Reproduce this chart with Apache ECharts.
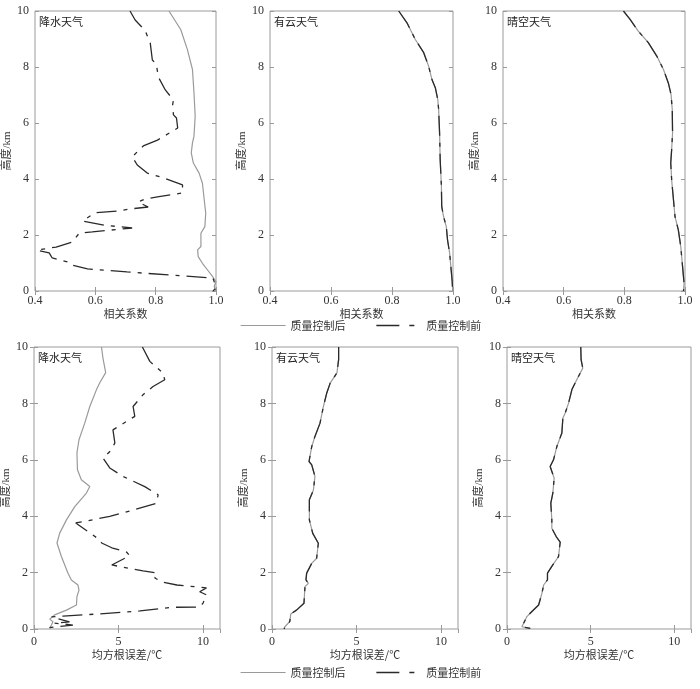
<!DOCTYPE html>
<html>
<head>
<meta charset="utf-8">
<script src="https://cdn.jsdelivr.net/npm/echarts@6/dist/echarts.min.js"></script>
<style>
  html, body { margin: 0; padding: 0; background: #fff; }
  #chart { width: 700px; height: 689px; }
</style>
</head>
<body>
<div id="chart"></div>
<script>
  // 降水天气 相关系数
  var rainCorrAfterH = [10, 9.34, 8.63, 7.91, 7.08, 6.24, 5.53, 5.29, 4.93, 4.57, 4.21, 3.85, 3.26, 2.78, 2.30, 2.06, 1.59, 1.47, 1.23, 0.99, 0.75, 0.51, 0.33, 0.16, 0]
  var rainCorrAfterV = [0.844, 0.883, 0.905, 0.922, 0.927, 0.931, 0.927, 0.922, 0.918, 0.925, 0.944, 0.955, 0.961, 0.966, 0.963, 0.950, 0.950, 0.939, 0.941, 0.955, 0.972, 0.989, 1.0, 0.994, 1.0]
  var rainCorrBeforeH = [10, 9.68, 9.3, 8.86, 8.25, 8.1, 7.64, 7.18, 6.82, 6.64, 6.29, 6.18, 5.82, 5.39, 5.18, 4.79, 4.5, 4.21, 4.04, 3.79, 3.5, 3.36, 3.29, 3.18, 3.0, 2.93, 2.86, 2.79, 2.5, 2.35, 2.25, 2.11, 2.07, 1.75, 1.57, 1.46, 1.36, 1.18, 1.04, 0.93, 0.79, 0.68, 0.54, 0.46, 0.3, 0.1, 0]
  var rainCorrBeforeV = [0.715, 0.732, 0.765, 0.782, 0.789, 0.802, 0.809, 0.832, 0.859, 0.856, 0.859, 0.869, 0.873, 0.806, 0.759, 0.722, 0.739, 0.772, 0.826, 0.889, 0.889, 0.806, 0.766, 0.742, 0.775, 0.715, 0.675, 0.598, 0.558, 0.63, 0.722, 0.59, 0.547, 0.524, 0.47, 0.407, 0.447, 0.457, 0.507, 0.52, 0.574, 0.705, 0.889, 0.99, 0.995, 1.0, 0.99]

  // 有云天气 相关系数 (前后两条几乎重合)
  var cloudCorrH = [10, 9.58, 8.99, 8.51, 8.03, 7.55, 7.26, 6.84, 6.48, 5.64, 4.69, 3.74, 3.02, 2.66, 2.3, 1.83, 1.35, 0.87, 0.39, 0]
  var cloudCorrV = [0.822, 0.849, 0.876, 0.904, 0.920, 0.931, 0.942, 0.950, 0.953, 0.956, 0.958, 0.962, 0.963, 0.969, 0.978, 0.982, 0.989, 0.993, 0.997, 0.999]

  // 晴空天气 相关系数
  var clearCorrH = [10, 9.7, 9.28, 8.87, 8.39, 7.91, 7.43, 7.02, 6.48, 5.64, 5.05, 4.57, 3.97, 3.26, 2.66, 2.18, 1.59, 0.87, 0.27, 0]
  var clearCorrV = [0.797, 0.819, 0.846, 0.879, 0.907, 0.929, 0.945, 0.954, 0.958, 0.959, 0.956, 0.953, 0.956, 0.962, 0.967, 0.978, 0.986, 0.992, 0.997, 0.995]

  // 降水天气 均方根误差
  var rainRmseAfterH = [10, 9.6, 9.09, 8.73, 8.48, 7.89, 7.3, 6.71, 6.25, 5.65, 5.29, 5.05, 4.82, 4.34, 3.87, 3.40, 3.05, 2.57, 1.98, 1.74, 1.56, 1.38, 1.15, 0.85, 0.67, 0.50, 0.35, 0.26, 0.14, 0.03]
  var rainRmseAfterV = [3.99, 4.08, 4.24, 3.89, 3.69, 3.30, 3.0, 2.66, 2.54, 2.57, 2.80, 3.30, 3.10, 2.41, 1.92, 1.52, 1.36, 1.62, 2.01, 2.21, 2.60, 2.66, 2.54, 2.51, 1.92, 1.22, 0.93, 1.12, 1.03, 0.93]
  var rainRmseBeforeH = [10, 9.49, 9.08, 8.84, 8.6, 8.31, 7.89, 7.54, 7.36, 7.06, 6.6, 6.35, 6.06, 5.71, 5.41, 5.05, 4.76, 4.46, 4.22, 3.99, 3.76, 3.45, 3.16, 3.05, 2.88, 2.73, 2.6, 2.27, 2.2, 2.06, 1.99, 1.81, 1.67, 1.56, 1.46, 1.32, 1.21, 0.92, 0.78, 0.77, 0.64, 0.53, 0.46, 0.43, 0.25, 0.21, 0.14, 0.04]
  var rainRmseBeforeV = [6.41, 6.85, 7.63, 7.73, 7.04, 6.45, 5.86, 5.96, 5.47, 4.67, 4.78, 4.58, 4.08, 4.48, 5.27, 6.55, 7.34, 7.24, 5.86, 4.48, 2.47, 3.2, 3.89, 4.0, 4.6, 5.47, 5.66, 4.6, 5.2, 6.45, 7.27, 7.15, 7.57, 8.45, 10.2, 9.8, 10.2, 10.0, 9.8, 8.2, 6.27, 3.7, 1.72, 1.04, 2.1, 1.2, 2.3, 0.75]

  // 有云天气 均方根误差
  var cloudRmseH = [10, 9.55, 9.08, 8.72, 8.37, 7.89, 7.3, 6.83, 6.47, 5.94, 5.82, 5.41, 4.93, 4.58, 3.87, 3.39, 3.04, 2.51, 2.33, 1.98, 1.74, 1.62, 1.50, 0.91, 0.67, 0.53, 0.26, 0.08, 0]
  var cloudRmseV = [3.94, 3.94, 3.84, 3.44, 3.24, 3.04, 2.84, 2.54, 2.35, 2.19, 2.35, 2.54, 2.45, 2.21, 2.21, 2.41, 2.74, 2.64, 2.35, 2.05, 2.01, 2.15, 1.95, 1.89, 1.45, 1.11, 1.05, 0.76, 0.72]

  // 晴空天气 均方根误差
  var clearRmseH = [10, 9.55, 9.25, 8.84, 8.49, 8.01, 7.66, 7.48, 6.95, 6.47, 6.0, 5.76, 5.35, 4.82, 4.46, 3.87, 3.57, 3.28, 3.08, 2.57, 2.22, 1.98, 1.74, 1.56, 1.27, 0.85, 0.62, 0.44, 0.08, 0.02]
  var clearRmseV = [4.41, 4.43, 4.53, 4.17, 3.88, 3.68, 3.48, 3.34, 3.28, 2.98, 2.78, 2.58, 2.82, 2.74, 2.62, 2.68, 2.68, 2.94, 3.18, 3.08, 2.68, 2.42, 2.42, 2.19, 2.09, 1.89, 1.49, 1.19, 0.89, 1.39]

  var titles = ['降水天气', '有云天气', '晴空天气', '降水天气', '有云天气', '晴空天气']
  var nameAfter = '质量控制后'
  var nameBefore = '质量控制前'

  function zip (xs, ys) {
    return xs.map(function (v, i) { return [v, ys[i]] })
  }

  var serif = 'Liberation Serif, Noto Sans CJK SC'
  var cjk = 'Noto Sans CJK SC'

  var panels = [
    {grid: {left: 35, top: 11, width: 181, height: 280}, corr: true, after: zip(rainCorrAfterV, rainCorrAfterH), before: zip(rainCorrBeforeV, rainCorrBeforeH)},
    {grid: {left: 270, top: 11, width: 183, height: 280}, corr: true, after: zip(cloudCorrV, cloudCorrH), before: zip(cloudCorrV, cloudCorrH)},
    {grid: {left: 503, top: 11, width: 182, height: 280}, corr: true, after: zip(clearCorrV, clearCorrH), before: zip(clearCorrV, clearCorrH)},
    {grid: {left: 34, top: 347, width: 186, height: 282}, corr: false, after: zip(rainRmseAfterV, rainRmseAfterH), before: zip(rainRmseBeforeV, rainRmseBeforeH)},
    {grid: {left: 272, top: 347, width: 186, height: 282}, corr: false, after: zip(cloudRmseV, cloudRmseH), before: zip(cloudRmseV, cloudRmseH)},
    {grid: {left: 507, top: 347, width: 184, height: 282}, corr: false, after: zip(clearRmseV, clearRmseH), before: zip(clearRmseV, clearRmseH)}
  ]

  var grid = []
  var xAxis = []
  var yAxis = []
  var series = []
  var title = []

  panels.forEach(function (p, i) {
    grid.push(Object.assign({show: true, borderColor: '#9a9a9a', borderWidth: 1}, p.grid))
    title.push({
      text: titles[i],
      left: p.grid.left + 4,
      top: p.grid.top + 5,
      padding: 0,
      textStyle: {fontSize: 11, fontWeight: 'normal', color: '#222', fontFamily: cjk}
    })
    var xr = p.corr ? {min: 0.4, max: 1.0, interval: 0.2} : {min: 0, max: 11, interval: 5}
    var tick = {show: true, inside: true, length: 4, lineStyle: {color: '#9a9a9a'}}
    xAxis.push(Object.assign({
      type: 'value',
      gridIndex: i,
      position: 'bottom',
      name: p.corr ? '相关系数' : '均方根误差/℃',
      nameLocation: 'middle',
      nameGap: p.corr ? 16 : 19,
      nameTextStyle: {fontSize: 11, color: '#333', fontFamily: cjk},
      axisLine: {show: false},
      axisTick: tick,
      splitLine: {show: false},
      axisLabel: {
        margin: p.corr ? 4 : 7,
        fontSize: 12, color: '#333', fontFamily: serif,
        showMaxLabel: p.corr,
        formatter: function (v) { return p.corr ? v.toFixed(1) : String(v) }
      }
    }, xr))
    xAxis.push(Object.assign({
      type: 'value', gridIndex: i, position: 'top',
      axisLine: {show: false}, axisTick: tick, axisLabel: {show: false}, splitLine: {show: false}
    }, xr))
    var yr = {min: 0, max: 10, interval: 2}
    yAxis.push(Object.assign({
      type: 'value',
      gridIndex: i,
      position: 'left',
      name: '高度/km',
      nameLocation: 'middle',
      nameGap: 22,
      nameTextStyle: {fontSize: 11, color: '#333', fontFamily: serif},
      axisLine: {show: false},
      axisTick: tick,
      splitLine: {show: false},
      axisLabel: {margin: 6, fontSize: 12, color: '#333', fontFamily: serif}
    }, yr))
    yAxis.push(Object.assign({
      type: 'value', gridIndex: i, position: 'right',
      axisLine: {show: false}, axisTick: tick, axisLabel: {show: false}, splitLine: {show: false}
    }, yr))

    series.push({
      name: nameAfter,
      type: 'line',
      xAxisIndex: i * 2,
      yAxisIndex: i * 2,
      symbol: 'none',
      smooth: false,
      lineStyle: {color: '#9a9a9a', width: 1.2},
      itemStyle: {color: '#9a9a9a'},
      data: p.after
    })
    series.push({
      name: nameBefore,
      type: 'line',
      xAxisIndex: i * 2,
      yAxisIndex: i * 2,
      symbol: 'none',
      smooth: false,
      lineStyle: {color: '#2a2a2a', width: 1.3, type: [20, 7, 4, 7]},
      itemStyle: {color: '#2a2a2a'},
      data: p.before
    })
  })

  var legendText = {fontSize: 11, color: '#333', fontFamily: cjk}
  var legendData = [
    {name: nameAfter, itemStyle: {opacity: 0}, lineStyle: {width: 1.2}},
    {name: nameBefore, itemStyle: {opacity: 0}, lineStyle: {width: 1.5, type: [23, 10, 5, 20]}}
  ]
  var option = {
    animation: false,
    backgroundColor: '#fff',
    title: title,
    grid: grid,
    xAxis: xAxis,
    yAxis: yAxis,
    legend: [
      {top: 320, left: 240, itemWidth: 45, itemHeight: 10, itemGap: 30, padding: 0, itemStyle: {opacity: 0}, data: legendData, textStyle: legendText},
      {top: 667, left: 240, itemWidth: 45, itemHeight: 10, itemGap: 30, padding: 0, itemStyle: {opacity: 0}, data: legendData, textStyle: legendText}
    ],
    series: series
  }

  var chart = echarts.init(document.getElementById('chart'))
  chart.setOption(option)
</script>
</body>
</html>
